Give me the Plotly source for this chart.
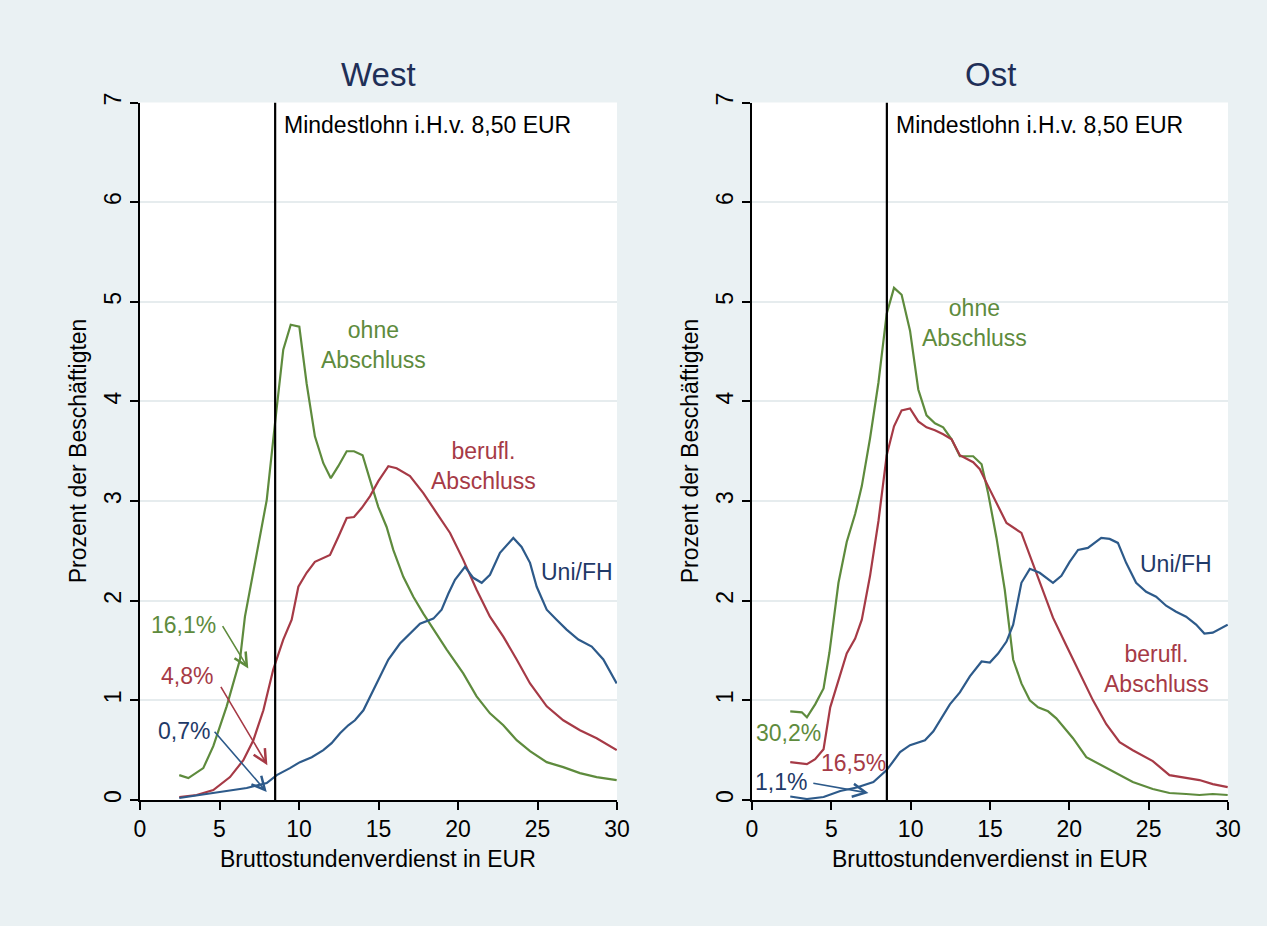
import plotly.graph_objects as go

# ---------------- data ----------------
MIN_WAGE = 8.5

# West
west_ohne_x = [2.47, 3.04, 3.98, 4.61, 5.45, 6.29, 6.60, 7.44, 7.97, 8.49, 9.01, 9.48, 10.02, 10.48, 11.0, 11.53, 12.0, 12.47, 13.0, 13.46, 14.0, 14.47, 14.99, 15.51, 15.93, 16.56, 17.19, 17.82, 18.45, 19.29, 20.33, 21.17, 22.01, 22.85, 23.69, 24.53, 25.58, 26.62, 27.67, 28.72, 29.98]
west_ohne_y = [0.25, 0.22, 0.32, 0.54, 0.94, 1.41, 1.84, 2.54, 3.01, 3.78, 4.52, 4.77, 4.75, 4.18, 3.65, 3.38, 3.23, 3.35, 3.50, 3.50, 3.46, 3.21, 2.94, 2.74, 2.51, 2.24, 2.04, 1.87, 1.71, 1.51, 1.27, 1.04, 0.87, 0.75, 0.60, 0.49, 0.38, 0.33, 0.27, 0.23, 0.20]

west_beruf_x = [2.47, 3.56, 4.61, 5.66, 6.5, 7.13, 7.76, 8.38, 9.01, 9.54, 9.96, 10.48, 11.0, 11.95, 12.47, 13.0, 13.46, 13.94, 14.47, 14.99, 15.62, 16.14, 16.98, 17.82, 18.66, 19.50, 20.33, 21.17, 22.01, 22.85, 23.69, 24.53, 25.58, 26.62, 27.67, 28.72, 29.98]
west_beruf_y = [0.03, 0.05, 0.10, 0.23, 0.40, 0.60, 0.90, 1.31, 1.61, 1.81, 2.14, 2.28, 2.39, 2.46, 2.64, 2.83, 2.84, 2.93, 3.05, 3.20, 3.35, 3.33, 3.25, 3.08, 2.88, 2.68, 2.41, 2.11, 1.84, 1.64, 1.41, 1.17, 0.94, 0.80, 0.70, 0.62, 0.50]

west_uni_x = [2.47, 4.61, 6.71, 7.97, 8.6, 9.43, 10.06, 10.8, 11.53, 12.05, 12.58, 13.1, 13.52, 14.05, 14.57, 15.09, 15.62, 16.35, 16.98, 17.61, 18.45, 18.97, 19.39, 19.81, 20.44, 20.96, 21.49, 22.01, 22.64, 23.48, 24.0, 24.53, 24.95, 25.58, 26.2, 26.83, 27.57, 28.41, 29.14, 29.98]
west_uni_y = [0.02, 0.07, 0.12, 0.17, 0.25, 0.32, 0.38, 0.43, 0.50, 0.57, 0.67, 0.75, 0.80, 0.90, 1.07, 1.24, 1.41, 1.57, 1.67, 1.77, 1.82, 1.91, 2.07, 2.21, 2.34, 2.23, 2.18, 2.26, 2.48, 2.63, 2.54, 2.38, 2.14, 1.91, 1.81, 1.71, 1.61, 1.54, 1.41, 1.17]

# Ost
ost_ohne_x = [2.41, 3.14, 3.46, 3.98, 4.51, 4.88, 5.45, 5.97, 6.50, 6.92, 7.44, 7.97, 8.49, 8.95, 9.43, 9.96, 10.48, 11.0, 11.53, 12.05, 12.58, 13.1, 13.94, 14.47, 14.88, 15.41, 15.93, 16.46, 16.98, 17.51, 18.03, 18.66, 19.18, 20.23, 21.07, 21.91, 22.96, 24.0, 25.26, 26.31, 27.36, 28.2, 29.04, 29.98]
ost_ohne_y = [0.89, 0.88, 0.83, 0.96, 1.12, 1.48, 2.18, 2.59, 2.87, 3.15, 3.63, 4.19, 4.88, 5.14, 5.07, 4.71, 4.12, 3.86, 3.78, 3.74, 3.62, 3.45, 3.45, 3.37, 3.08, 2.63, 2.11, 1.41, 1.17, 1.00, 0.93, 0.89, 0.82, 0.62, 0.43, 0.36, 0.27, 0.18, 0.11, 0.07, 0.06, 0.05, 0.06, 0.05]

ost_beruf_x = [2.41, 3.46, 3.98, 4.51, 4.93, 5.45, 5.97, 6.5, 6.92, 7.44, 7.97, 8.49, 8.95, 9.43, 9.96, 10.48, 11.0, 11.53, 12.05, 12.58, 13.1, 13.94, 14.36, 14.88, 15.41, 16.04, 16.98, 17.51, 18.13, 18.97, 19.81, 20.65, 21.49, 22.33, 23.17, 24.0, 25.26, 26.31, 27.36, 28.2, 29.04, 29.98]
ost_beruf_y = [0.38, 0.36, 0.41, 0.51, 0.93, 1.21, 1.47, 1.62, 1.81, 2.25, 2.80, 3.46, 3.75, 3.91, 3.93, 3.80, 3.74, 3.71, 3.67, 3.62, 3.46, 3.39, 3.32, 3.15, 2.98, 2.78, 2.68, 2.45, 2.18, 1.83, 1.55, 1.28, 1.00, 0.76, 0.58, 0.50, 0.39, 0.25, 0.22, 0.20, 0.16, 0.13]

ost_uni_x = [2.41, 3.46, 4.51, 5.56, 6.6, 7.65, 8.49, 9.33, 9.96, 10.9, 11.43, 11.95, 12.47, 13.1, 13.73, 14.47, 14.99, 15.51, 16.04, 16.46, 16.98, 17.51, 18.13, 18.97, 19.5, 20.02, 20.55, 21.17, 22.01, 22.54, 23.06, 23.58, 24.21, 24.84, 25.47, 26.1, 26.73, 27.36, 27.99, 28.51, 29.04, 29.98]
ost_uni_y = [0.035, 0.01, 0.03, 0.09, 0.125, 0.18, 0.30, 0.48, 0.55, 0.60, 0.69, 0.82, 0.96, 1.08, 1.24, 1.39, 1.38, 1.47, 1.59, 1.76, 2.18, 2.32, 2.28, 2.18, 2.25, 2.39, 2.51, 2.53, 2.63, 2.62, 2.58, 2.38, 2.18, 2.09, 2.04, 1.95, 1.89, 1.84, 1.76, 1.67, 1.68, 1.76]

panel_titles = ["West", "Ost"]
x_title = "Bruttostundenverdienst in EUR"
y_title = "Prozent der Beschäftigten"
min_wage_label = "Mindestlohn i.H.v. 8,50 EUR"
x_ticks = [0, 5, 10, 15, 20, 25, 30]
y_ticks = [0, 1, 2, 3, 4, 5, 6, 7]

# series labels: (text, x, y) per panel
west_labels = [("ohne<br>Abschluss", 14.67, 4.57, "green"),
               ("berufl.<br>Abschluss", 21.6, 3.35, "red"),
               ("Uni/FH", 27.46, 2.29, "bluetext")]
ost_labels = [("ohne<br>Abschluss", 14.0, 4.79, "green"),
              ("berufl.<br>Abschluss", 25.5, 1.31, "red"),
              ("Uni/FH", 26.7, 2.37, "bluetext")]

# share below minimum wage: (text, text_x, text_y, colour, arrow tail x, tail y, head x, head y)
west_shares = [("16,1%", 2.73, 1.76, "green", 5.14, 1.76, 6.81, 1.32),
               ("4,8%", 2.98, 1.24, "red", 5.03, 1.15, 8.01, 0.35),
               ("0,7%", 2.78, 0.69, "bluetext", 4.61, 0.70, 7.97, 0.08)]
ost_shares = [("30,2%", 2.31, 0.67, "green", None, None, None, None),
              ("16,5%", 6.41, 0.37, "red", None, None, None, None),
              ("1,1%", 1.84, 0.18, "bluetext", 3.77, 0.17, 7.34, 0.07)]

# ---------------- styling ----------------
COL = {"green": "#5e8b3d", "red": "#a63a46", "blue": "#2d5a8a", "bluetext": "#1f3a68"}
TITLE_COL = "#1f2f57"
BG = "#eaf1f3"
GRID = "#e6ecee"
FONT = "Liberation Sans, Arial, sans-serif"

W, H = 1267, 926
dom_x = [[140 / W, 617 / W], [752 / W, 1228 / W]]
dom_y = [1 - 800 / H, 1 - 102.5 / H]

fig = go.Figure()

panels = [
    ((west_ohne_x, west_ohne_y), (west_beruf_x, west_beruf_y), (west_uni_x, west_uni_y)),
    ((ost_ohne_x, ost_ohne_y), (ost_beruf_x, ost_beruf_y), (ost_uni_x, ost_uni_y)),
]
for i, (g, r, b) in enumerate(panels):
    xa = "x" if i == 0 else "x2"
    ya = "y" if i == 0 else "y2"
    for (xs, ys), c in ((g, "green"), (r, "red"), (b, "blue")):
        fig.add_trace(go.Scatter(x=xs, y=ys, mode="lines", xaxis=xa, yaxis=ya,
                                 line=dict(color=COL[c], width=2.2), showlegend=False,
                                 hoverinfo="skip"))

annotations = []
shapes = []
for i in range(2):
    xr = "x" if i == 0 else "x2"
    yr = "y" if i == 0 else "y2"
    # minimum wage line
    shapes.append(dict(type="line", xref=xr, yref=yr, x0=MIN_WAGE, x1=MIN_WAGE,
                       y0=0, y1=7, line=dict(color="black", width=2.2)))
    annotations.append(dict(xref=xr, yref=yr, x=MIN_WAGE, y=6.77, text=min_wage_label,
                            showarrow=False, xanchor="left", xshift=7,
                            font=dict(size=23, color="black", family=FONT)))
    # panel title
    cx = (dom_x[i][0] + dom_x[i][1]) / 2
    annotations.append(dict(xref="paper", yref="paper", x=cx, y=1 - 75 / H,
                            text=panel_titles[i], showarrow=False,
                            xanchor="center", yanchor="middle",
                            font=dict(size=33, color=TITLE_COL, family=FONT)))
    # axis titles
    annotations.append(dict(xref="paper", yref="paper", x=cx, y=1 - 859 / H,
                            text=x_title, showarrow=False,
                            xanchor="center", yanchor="middle",
                            font=dict(size=23, color="black", family=FONT)))
    annotations.append(dict(xref="paper", yref="paper", x=(dom_x[i][0] * W - 62) / W,
                            y=(dom_y[0] + dom_y[1]) / 2, text=y_title, textangle=-90,
                            showarrow=False, xanchor="center", yanchor="middle",
                            font=dict(size=23, color="black", family=FONT)))
    labels = west_labels if i == 0 else ost_labels
    for txt, lx, ly, c in labels:
        annotations.append(dict(xref=xr, yref=yr, x=lx, y=ly, text=txt, showarrow=False,
                                align="center", xanchor="center", yanchor="middle",
                                font=dict(size=23, color=COL[c], family=FONT)))
    shares = west_shares if i == 0 else ost_shares
    for txt, tx, ty, c, ax0, ay0, hx, hy in shares:
        annotations.append(dict(xref=xr, yref=yr, x=tx, y=ty, text=txt, showarrow=False,
                                xanchor="center", yanchor="middle",
                                font=dict(size=23, color=COL[c], family=FONT)))
        if ax0 is not None:
            arrow_col = COL["blue"] if c == "bluetext" else COL[c]
            annotations.append(dict(xref=xr, yref=yr, x=hx, y=hy, ax=ax0, ay=ay0,
                                    axref=xr, ayref=yr, text="", showarrow=True,
                                    arrowhead=5, arrowsize=1.6, arrowwidth=1.6,
                                    arrowcolor=arrow_col, standoff=0, startstandoff=0))

axis_common_x = dict(range=[0, 30], tickvals=x_ticks, ticks="outside", ticklen=8,
                     tickwidth=1.5, tickcolor="black", showline=True, linecolor="black",
                     linewidth=1.5, showgrid=False, zeroline=False, automargin=False,
                     tickfont=dict(size=23, color="black", family=FONT))
axis_common_y = dict(range=[0, 7], tickvals=y_ticks, ticks="outside", ticklen=8,
                     tickwidth=1.5, tickcolor="black", showline=True, linecolor="black",
                     linewidth=1.5, showgrid=True, gridcolor=GRID, gridwidth=1.5,
                     zeroline=False, tickangle=-90, automargin=False,
                     tickfont=dict(size=23, color="black", family=FONT))

fig.update_layout(
    width=W, height=H,
    margin=dict(l=0, r=0, t=0, b=0),
    paper_bgcolor=BG, plot_bgcolor="white",
    showlegend=False,
    xaxis=dict(domain=dom_x[0], anchor="y", **axis_common_x),
    yaxis=dict(domain=dom_y, anchor="x", **axis_common_y),
    xaxis2=dict(domain=dom_x[1], anchor="y2", **axis_common_x),
    yaxis2=dict(domain=dom_y, anchor="x2", **axis_common_y),
    annotations=annotations,
    shapes=shapes,
    font=dict(family=FONT),
)

fig.write_html("out.html")
